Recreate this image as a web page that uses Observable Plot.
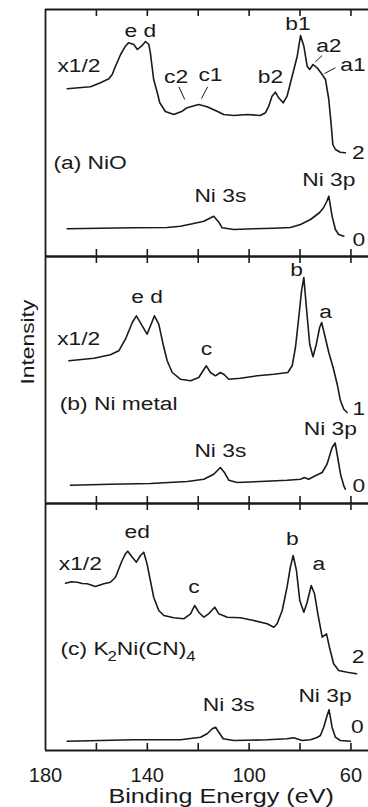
<!DOCTYPE html>
<html><head><meta charset="utf-8">
<script src="https://cdn.jsdelivr.net/npm/d3@7"></script>
<script src="https://cdn.jsdelivr.net/npm/@observablehq/plot@0.6"></script>
<style>html,body{margin:0;padding:0;background:#fff}svg{display:block}</style>
</head><body><div id="chart"></div>
<script>
// Panels (facets)
const panels = ["a", "b", "c"];
// Tick positions (eV)
const tickEnergies = [160, 140, 120, 100, 80, 60];
const tickLabels = [180, 140, 100, 60];

// Spectra: [binding energy (eV), intensity (arb. units, offset)]
const nioHigh = [[171.5,167.7],[162.3,169.7],[158.4,173.7],[155.1,177.7],[153.8,182],[152.5,190.3],[150.5,202],[148.6,210.3],[147.4,213.7],[145.3,212],[143.9,207],[142.3,210.3],[140.7,215],[139.4,212],[138.8,203.7],[137.5,177],[136.1,164],[135.1,153.7],[132.9,145],[129.6,142],[126.3,145.3],[124.6,148.5],[123.0,149.7],[119.8,152],[116.5,149.7],[112.6,145.3],[110.0,142],[106.0,141],[100.8,142],[95.6,141],[93.6,143.7],[92.3,150.3],[91.0,160.3],[89.7,164.3],[88.4,158.7],[86.6,153.7],[85.1,160.3],[83.1,180.3],[81.1,200.3],[79.8,221],[78.5,210.3],[77.2,190.3],[76.2,187],[74.9,192],[73.3,188.7],[71.3,182],[70.0,177],[68.7,157],[67.7,130],[67.1,112],[66.1,107],[64.2,104.3],[62.2,103.7]];
const nioLow = [[171.5,27.7],[158.4,28.3],[145.4,28.7],[132.2,29],[127.0,30.3],[121.8,33],[117.8,35.3],[113.9,40.3],[111.9,34.3],[110.6,28.7],[106.0,27],[98.2,27.7],[90.3,28.3],[83.8,29],[79.8,32],[75.9,37],[73.3,42],[72.3,44],[70.7,49],[69.5,55],[68.7,60.3],[67.4,40.3],[66.1,27],[64.8,22],[62.8,20.3]];
const niHigh = [[170.8,142.7],[161.0,145.3],[154.5,148.7],[151.2,152.7],[148.6,164.3],[145.9,181],[144.3,187.7],[142.0,177.7],[140.1,169.3],[138.5,179.3],[137.2,187.7],[135.5,179.3],[133.8,159.3],[132.2,142.7],[130.2,131],[127.0,124.3],[123.0,122.7],[119.8,126],[118.1,132.7],[116.8,137.7],[115.2,131],[113.2,127.7],[111.3,131],[109.7,128.7],[108.0,124.3],[103.4,125.3],[96.8,127.7],[90.3,129.3],[84.8,131],[83.1,137.7],[81.8,156],[80.5,186],[79.4,212.7],[78.5,226],[77.5,196],[76.2,159.3],[74.9,146.7],[73.6,159.3],[72.3,176],[71.5,181],[70.4,169.3],[68.7,151],[67.0,136],[65.4,119.3],[64.1,102.7],[62.8,94.3],[61.5,91]];
const niLow = [[170.2,18.3],[154.5,19.3],[138.8,20],[124.3,22],[117.8,24.3],[113.9,29.3],[111.3,36],[109.7,31],[108.0,23.3],[104.7,21],[95.6,22],[85.1,23.3],[79.8,24.3],[78.3,26],[76.6,24.3],[74.0,27.7],[71.3,31],[69.4,39.3],[67.4,56],[66.2,60.5],[65.2,46],[64.1,29.3],[62.8,17.7],[62.2,14.3]];
const kniHigh = [[172.1,167.3],[169.8,168.8],[167.5,168.3],[165.6,167],[163.6,166.7],[160.4,164],[157.1,166.7],[154.5,168.3],[152.5,173.3],[151.2,181.7],[149.9,190],[148.6,196.7],[147.7,199.3],[145.9,193.3],[144.3,188.3],[142.7,195],[141.4,198.3],[140.1,186.7],[138.8,170],[137.5,153.3],[135.5,140],[133.5,135],[129.6,132.7],[125.7,131.7],[123.0,136.7],[121.4,145],[119.8,138.3],[117.8,133.3],[115.9,136.7],[113.5,143.3],[111.9,136.7],[108.6,133.3],[103.4,132.7],[98.2,130],[92.9,126.7],[90.3,123.3],[89.0,126.7],[87.0,140],[85.1,163.3],[83.8,183.3],[82.7,195],[81.4,180],[80.1,150],[78.5,138.3],[77.2,148.3],[75.6,165],[74.3,156.7],[73.0,136.7],[71.3,113.3],[69.6,116.7],[68.3,101.7],[66.8,86.7],[64.8,80],[61.5,78.3],[57.8,76.7]];
const kniLow = [[171.5,9.3],[158.4,10],[145.3,10.7],[127.0,10.7],[119.1,13.3],[116.5,16.7],[114.5,21.7],[113.2,23.3],[111.9,18.3],[110.2,11.7],[106.0,10],[92.9,10.7],[85.1,11.7],[82.5,12.7],[79.2,10],[75.9,10.7],[73.3,13],[72.0,15],[70.7,23.3],[69.6,33],[68.6,40.7],[67.4,23.3],[66.1,13.3],[64.2,10],[60.2,9.3]];

// Annotations: [panel, energy, intensity, text, anchor]
const labelsA = [["a",175.3,190.3,"x1/2","start"],["a",142.7,226,"e d","middle"],["a",128.7,179.7,"c2","middle"],["a",115.2,182,"c1","middle"],["a",91.6,179.7,"b2","middle"],["a",80.8,233,"b1","middle"],["a",68.7,211,"a2","middle"],["a",59.2,192,"a1","middle"],["a",57.1,104,"2","middle"],["a",176.9,94,"(a) NiO","start"],["a",111.3,60.3,"Ni 3s","middle"],["a",68.7,77,"Ni 3p","middle"],["a",56.9,17,"0","middle"]];
const labelsB = [["b",175.4,164.3,"x1/2","start"],["b",140.1,207,"e d","middle"],["b",116.8,154.3,"c","middle"],["b",81.4,234,"b","middle"],["b",70.0,192,"a","middle"],["b",56.9,94.3,"1","middle"],["b",174.4,99.3,"(b) Ni metal","start"],["b",111.3,52.7,"Ni 3s","middle"],["b",68.1,75,"Ni 3p","middle"],["b",56.9,17.7,"0","middle"]];
const labelsC = [["c",174.8,186.7,"x1/2","start"],["c",144.0,218.3,"ed","middle"],["c",121.7,163.3,"c","middle"],["c",83.0,211.7,"b","middle"],["c",72.6,186.7,"a","middle"],["c",57.2,94,"2","middle"],["c",174.1,101.7,"(c) K2Ni(CN)4","start"],["c",108.0,46,"Ni 3s","middle"],["c",70.2,55,"Ni 3p","middle"],["c",57.5,24,"0","middle"]];
// Leader lines: [panel, E1, I1, E2, I2]
const leaders = [["a",127.6,169.7,125.3,157],["a",116.3,169.7,118.7,158],["a",71.3,201,74.0,194.7],["a",66.1,188.7,70.4,183]];

const series = [
  {panel: "a", name: "high", pts: nioHigh}, {panel: "a", name: "low", pts: nioLow},
  {panel: "b", name: "high", pts: niHigh}, {panel: "b", name: "low", pts: niLow},
  {panel: "c", name: "high", pts: kniHigh}, {panel: "c", name: "low", pts: kniLow}
];
const rows = series.flatMap(s => s.pts.map(([E, I]) => ({panel: s.panel, key: s.panel + s.name, E, I})));
const labelRows = [...labelsA, ...labelsB, ...labelsC].map(([panel, E, I, text, anchor]) => ({panel, E, I, text, anchor}));
const leaderRows = leaders.map(([panel, E1, I1, E2, I2]) => ({panel, E1, I1, E2, I2}));

const ink = "#1a1a1a";
const font = "'Liberation Sans', Arial, Helvetica, sans-serif";
const FH = 247;   // facet height in intensity units (1 unit = 1 px)
const TL = 7;     // inward tick length

const plot = Plot.plot({
  width: 368, height: 807,
  marginLeft: 45, marginRight: 0, marginTop: 9, marginBottom: 57,
  style: {fontFamily: font, color: ink, background: "white", overflow: "visible"},
  x: {domain: [180, 53.1], axis: null},
  y: {domain: [0, FH], axis: null},
  fy: {domain: panels, padding: 0, axis: null},
  marks: [
    Plot.line(rows, {x: "E", y: "I", z: "key", fy: "panel", stroke: ink, strokeWidth: 1.6, strokeLinejoin: "round"}),
    Plot.ruleX(tickEnergies, {x: d => d, y1: FH, y2: FH - TL, stroke: ink, strokeWidth: 1.6}),
    Plot.ruleX(tickEnergies, {x: d => d, y1: 0, y2: TL, stroke: ink, strokeWidth: 1.6}),
    Plot.ruleY([0, FH], {stroke: ink, strokeWidth: 1.8}),
    Plot.ruleX([180], {stroke: ink, strokeWidth: 1.8}),
    Plot.link(leaderRows, {x1: "E1", y1: "I1", x2: "E2", y2: "I2", fy: "panel", stroke: ink, strokeWidth: 1}),
    Plot.text(labelRows.filter(d => d.anchor === "start"), {x: "E", y: "I", fy: "panel", text: "text", textAnchor: "start", lineAnchor: "middle", fontSize: 19, fill: ink}),
    Plot.text(labelRows.filter(d => d.anchor === "middle"), {x: "E", y: "I", fy: "panel", text: "text", textAnchor: "middle", lineAnchor: "middle", fontSize: 19, fill: ink}),
    Plot.text([{panel: "b", I: 119}], {fy: "panel", y: "I", frameAnchor: "left", dx: -18, rotate: -90, text: () => "Intensity", lineAnchor: "middle", fontSize: 19, fill: ink}),
    Plot.text([{panel: "c", E: 111}], {fy: "panel", x: "E", frameAnchor: "bottom", dy: 46, text: () => "Binding Energy (eV)", lineAnchor: "middle", fontSize: 21, fill: ink}),
    Plot.axisX(tickLabels, {anchor: "bottom", tickSize: 0, tickPadding: 17, fontSize: 20, label: null, fill: ink})
  ]
});

const tickStrings = tickLabels.map(String);
plot.querySelectorAll("text").forEach(t => {
  const s = t.textContent;
  if (tickStrings.includes(s)) return;
  const tr = t.getAttribute("transform") || "";
  t.setAttribute("transform", tr + " scale(1.2,1)");
  if (s === "(c) K2Ni(CN)4") {
    t.innerHTML = '(c) K<tspan dx="-1" dy="6" font-size="14">2</tspan><tspan dy="-6">Ni(CN)</tspan><tspan dy="6" font-size="14">4</tspan>';
  }
});
document.getElementById("chart").appendChild(plot);
</script>
</body></html>
